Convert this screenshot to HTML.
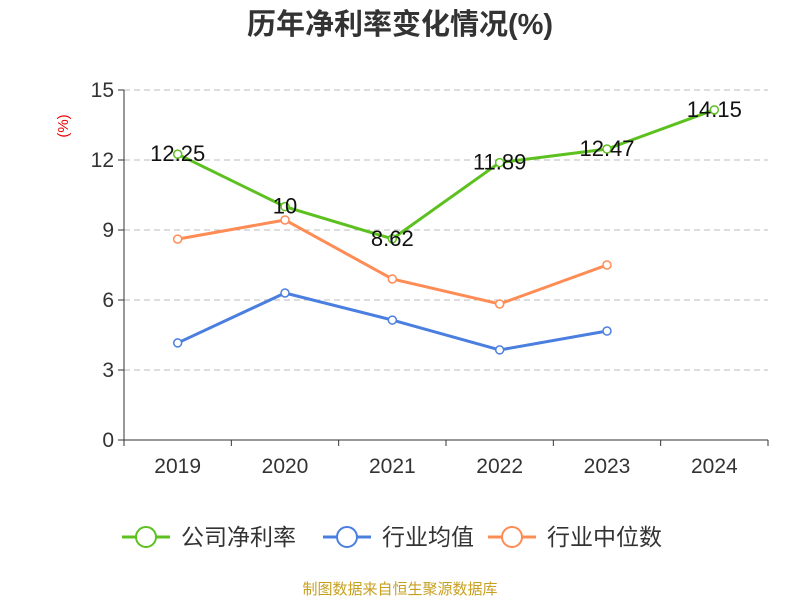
<!DOCTYPE html>
<html><head><meta charset="utf-8"><style>
body{margin:0;background:#fff;}
svg text{font-family:"Liberation Sans","Noto Sans CJK SC",sans-serif;}
</style></head><body>
<svg id="chart" width="800" height="600">
<text x="400" y="34" text-anchor="middle" font-size="29" font-weight="bold" fill="#333">历年净利率变化情况(%)</text>
<text x="0" y="0" transform="translate(68,126) rotate(-90)" text-anchor="middle" font-size="15" fill="#e00">(%)</text>
<g id="grid"></g><g id="axes"></g><g id="series"></g>
<g id="legend"></g>
<text x="400" y="594" text-anchor="middle" font-size="15" fill="#c8a020">制图数据来自恒生聚源数据库</text>
</svg>
<script>
const categories=["2019","2020","2021","2022","2023","2024"];
const companyValues=[12.25,10,8.62,11.89,12.47,14.15];
const industryAvg=[4.16,6.3,5.14,3.86,4.67,null];
const industryMedian=[8.61,9.43,6.9,5.83,7.5,null];
const yTicks=[0,3,6,9,12,15];
const NS="http://www.w3.org/2000/svg";
const x0=124,x1=768,y0=440,y1=90,ymax=15;
const bw=(x1-x0)/categories.length;
const xs=i=>x0+bw*(i+0.5);
const ys=v=>y0-(v/ymax)*(y0-y1);
function mk(tag,attrs,parent){const e=document.createElementNS(NS,tag);for(const k in attrs)e.setAttribute(k,attrs[k]);parent.appendChild(e);return e;}
const grid=document.getElementById('grid'),axes=document.getElementById('axes'),ser=document.getElementById('series'),leg=document.getElementById('legend');
yTicks.forEach(t=>{
 const y=ys(t);
 if(t>0){const l=mk('line',{x1:x0,x2:x1,y1:y,y2:y,stroke:'#bbb','stroke-dasharray':'6,4'},grid);
 
 }
 const tk=mk('line',{x1:x0-6,x2:x0,y1:y,y2:y,stroke:'#333'},axes);
 
 
 const tx=mk('text',{x:x0-10,y:y+7,'text-anchor':'end','font-size':21,fill:'#333'},axes);tx.textContent=t;
 
 
});
const ya=mk('line',{x1:x0,x2:x0,y1:y1,y2:y0,stroke:'#333'},axes);


const xa=mk('line',{x1:x0,x2:x1,y1:y0,y2:y0,stroke:'#333'},axes);


for(let i=0;i<=categories.length;i++){const tk=mk('line',{x1:x0+bw*i,x2:x0+bw*i,y1:y0,y2:y0+6,stroke:'#333'},axes);
 
 }
categories.forEach((c,i)=>{const t=mk('text',{x:xs(i),y:y0+33,'text-anchor':'middle','font-size':21,fill:'#333'},axes);t.textContent=c;
 
 });
function series(vals,color,name,labels){
 const pts=vals.map((v,i)=>v==null?null:[xs(i),ys(v)]).filter(p=>p);
 const pl=mk('polyline',{points:pts.map(p=>p.join(',')).join(' '),fill:'none',stroke:color,'stroke-width':3},ser);
 
 
 vals.forEach((v,i)=>{if(v==null)return;
  const c=mk('circle',{cx:xs(i),cy:ys(v),r:4,fill:'#fff',stroke:color,'stroke-width':1.5},ser);
  
  
  if(labels){const t=mk('text',{x:xs(i),y:ys(v)+7,'text-anchor':'middle','font-size':22,fill:'#111'},ser);t.textContent=v;
   
   }
 });
}
series(industryAvg,'#4a7fe0','industry-average',false);
series(industryMedian,'#ff8c55','industry-median',false);
series(companyValues,'#5cc11f','company-net-margin',true);
[["公司净利率",'#5cc11f',122],["行业均值",'#4a7fe0',323],["行业中位数",'#ff8c55',488]].forEach(([n,c,x])=>{
 const g=mk('g',{},leg);
 
 
 mk('line',{x1:x,x2:x+48,y1:537,y2:537,stroke:c,'stroke-width':3},g);
 mk('circle',{cx:x+24,cy:537,r:10,fill:'#fff',stroke:c,'stroke-width':2},g);
 const t=mk('text',{x:x+59,y:545,'font-size':23,fill:'#333'},g);t.textContent=n;
});
</script>
</body></html>
